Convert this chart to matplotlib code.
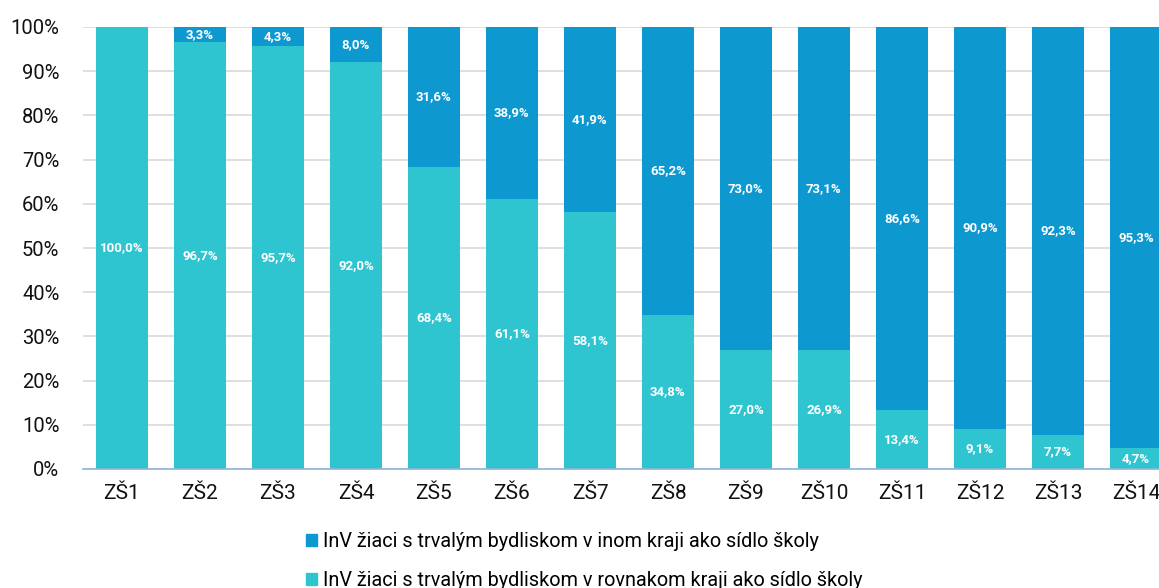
import numpy as np
import matplotlib
matplotlib.use('Agg')
import matplotlib.pyplot as plt
from matplotlib.patches import Patch

plt.rcParams['font.family'] = ['Roboto', 'DejaVu Sans']

# Dáta
skoly = ["ZŠ1", "ZŠ2", "ZŠ3", "ZŠ4", "ZŠ5", "ZŠ6", "ZŠ7",
         "ZŠ8", "ZŠ9", "ZŠ10", "ZŠ11", "ZŠ12", "ZŠ13", "ZŠ14"]
rovnaky_kraj = [100.0, 96.7, 95.7, 92.0, 68.4, 61.1, 58.1,
                34.8, 27.0, 26.9, 13.4, 9.1, 7.7, 4.7]
iny_kraj = [0.0, 3.3, 4.3, 8.0, 31.6, 38.9, 41.9,
            65.2, 73.0, 73.1, 86.6, 90.9, 92.3, 95.3]

farba_rovnaky = "#2EC5D1"
farba_iny = "#0E98D0"

fig = plt.figure(figsize=(11.59, 5.88), dpi=100)
ax = fig.add_axes([83 / 1159, 119 / 588, 1092 / 1159, 442 / 588])

x = np.arange(len(skoly))
sirka = 52 / 78

ax.bar(x, rovnaky_kraj, sirka, color=farba_rovnaky, zorder=3)
ax.bar(x, iny_kraj, sirka, bottom=rovnaky_kraj, color=farba_iny, zorder=3)

def fmt(v):
    return f"{v:.1f}".replace(".", ",") + "%"

for i in range(len(skoly)):
    r = rovnaky_kraj[i]
    n = iny_kraj[i]
    if r > 0:
        ax.text(x[i], r / 2, fmt(r), ha="center", va="center",
                color="white", fontsize=9.5, fontweight="bold", zorder=4)
    if n > 0:
        ax.text(x[i], r + n / 2, fmt(n), ha="center", va="center",
                color="white", fontsize=9.5, fontweight="bold", zorder=4)

ax.set_xlim(-0.5, len(skoly) - 0.5)
ax.set_ylim(0, 100)
ax.set_yticks(np.arange(0, 101, 10))
ax.set_yticklabels([f"{v}%" for v in range(0, 101, 10)], fontsize=14.5)
ax.set_xticks(x)
ax.set_xticklabels(skoly, fontsize=15)
ax.tick_params(axis="both", length=0, colors="#111111")
ax.tick_params(axis="x", pad=11)
ax.tick_params(axis="y", pad=17)
ax.yaxis.grid(True, color="#D9D9D9", linewidth=1.2, zorder=0)
for s in ["top", "right", "left"]:
    ax.spines[s].set_visible(False)
ax.spines["bottom"].set_color("#8FB3DB")
ax.spines["bottom"].set_linewidth(1.2)
ax.spines["bottom"].set_zorder(5)

handles = [Patch(color=farba_iny, label="InV žiaci s trvalým bydliskom v inom kraji ako sídlo školy"),
           Patch(color=farba_rovnaky, label="InV žiaci s trvalým bydliskom v rovnakom kraji ako sídlo školy")]
fig.legend(handles=handles, loc="upper left", bbox_to_anchor=(292 / 1159, 1 - 518 / 588),
           frameon=False, fontsize=14.3, ncol=1, handlelength=0.55, handleheight=0.55,
           handletextpad=0.3, labelspacing=1.0, borderpad=0.2)

fig.savefig("out.png", dpi=100)
